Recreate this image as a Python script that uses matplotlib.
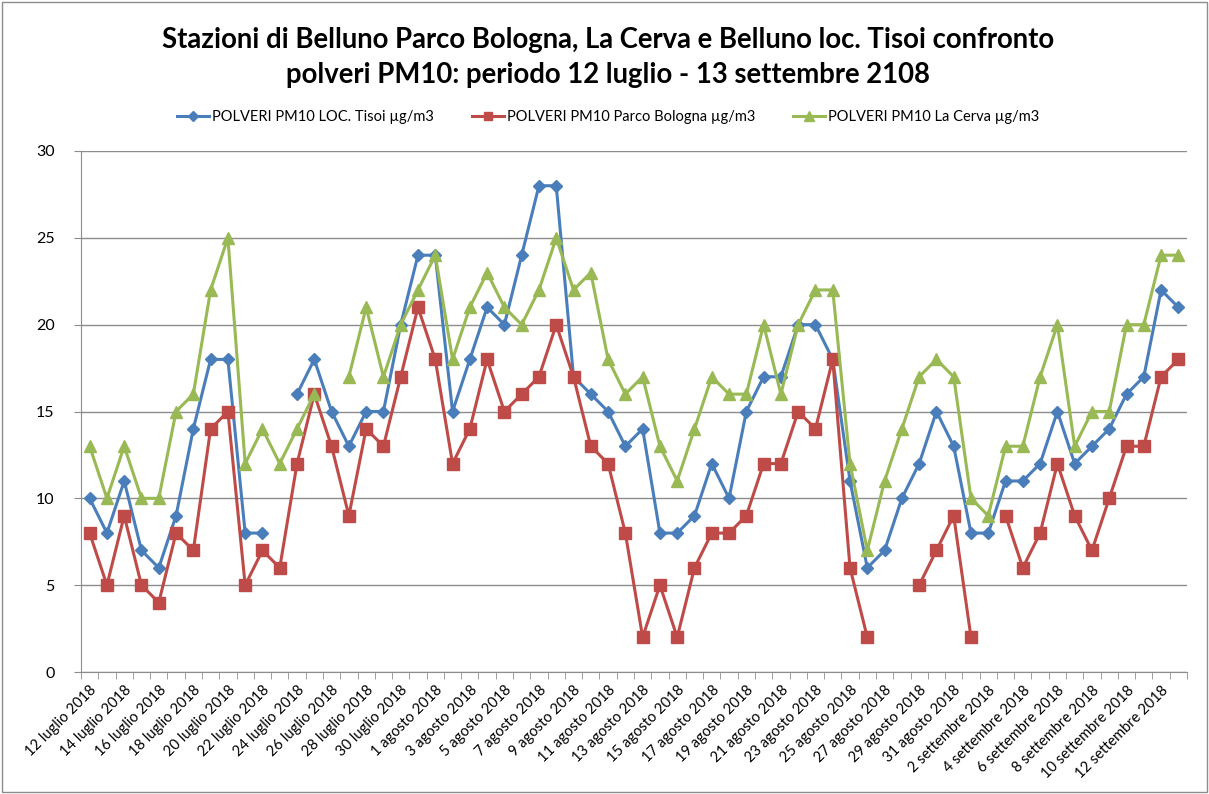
import numpy as np
import pandas as pd
import matplotlib
matplotlib.use("Agg")
import matplotlib.pyplot as plt
from matplotlib.patches import Rectangle

# days from 12 luglio to 13 settembre 2018
mesi = {7: "luglio", 8: "agosto", 9: "settembre"}
giorni = pd.date_range("2018-07-12", "2018-09-13", freq="D")
date_labels = [f"{d.day} {mesi[d.month]} {d.year}" for d in giorni]

tisoi = [10, 8, 11, 7, 6, 9, 14, 18, 18, 8, 8, None, 16, 18, 15, 13,
         15, 15, 20, 24, 24, 15, 18, 21, 20, 24, 28, 28, 17, 16, 15, 13,
         14, 8, 8, 9, 12, 10, 15, 17, 17, 20, 20, 18, 11, 6, 7, 10,
         12, 15, 13, 8, 8, 11, 11, 12, 15, 12, 13, 14, 16, 17, 22, 21]

parco_bologna = [8, 5, 9, 5, 4, 8, 7, 14, 15, 5, 7, 6, 12, 16, 13, 9,
                 14, 13, 17, 21, 18, 12, 14, 18, 15, 16, 17, 20, 17, 13, 12, 8,
                 2, 5, 2, 6, 8, 8, 9, 12, 12, 15, 14, 18, 6, 2, None, None,
                 5, 7, 9, 2, None, 9, 6, 8, 12, 9, 7, 10, 13, 13, 17, 18]

la_cerva = [13, 10, 13, 10, 10, 15, 16, 22, 25, 12, 14, 12, 14, 16, None, 17,
            21, 17, 20, 22, 24, 18, 21, 23, 21, 20, 22, 25, 22, 23, 18, 16,
            17, 13, 11, 14, 17, 16, 16, 20, 16, 20, 22, 22, 12, 7, 11, 14,
            17, 18, 17, 10, 9, 13, 13, 17, 20, 13, 15, 15, 20, 20, 24, 24]

series_names = ["POLVERI PM10 LOC. Tisoi µg/m3",
                "POLVERI PM10 Parco Bologna µg/m3",
                "POLVERI PM10 La Cerva µg/m3"]

plt.rcParams['font.family'] = ['Lato', 'DejaVu Sans']

fig = plt.figure(figsize=(12.09, 7.94), dpi=100)
ax = fig.add_axes([81/1209, 1 - 672/794, 1106/1209, 521/794])

x = np.arange(len(date_labels))
def arr(v):
    return np.array([np.nan if a is None else a for a in v], dtype=float)

ax.plot(x, arr(tisoi), color="#4A7EBB", lw=2.2, marker="D", ms=6.5,
        label=series_names[0])
ax.plot(x, arr(parco_bologna), color="#BE4B48", lw=2.2, marker="s", ms=8,
        label=series_names[1])
ax.plot(x, arr(la_cerva), color="#98B954", lw=2.2, marker="^", ms=9,
        label=series_names[2])

ax.set_xlim(-0.5, len(x) - 0.5)
ax.set_ylim(0, 30)
ax.set_yticks(range(0, 31, 5))
ax.grid(axis="y", color="#8C8C8C", lw=1)
ax.set_axisbelow(True)

for s in ["top", "right"]:
    ax.spines[s].set_visible(False)
for s in ["left", "bottom"]:
    ax.spines[s].set_color("#8C8C8C")

ax.set_xticks(x[::2])
ax.set_xticklabels(date_labels[::2], rotation=45, ha="right",
                   rotation_mode="anchor", fontsize=10.5)
ax.set_xticks(np.arange(-0.5, len(x)), minor=True)
ax.tick_params(axis="x", which="major", length=0, pad=8)
ax.tick_params(axis="x", which="minor", length=5, color="#8C8C8C")
ax.tick_params(axis="y", length=5, color="#8C8C8C", labelsize=11.5, pad=14)

fig.text(0.503, 0.95, "Stazioni di Belluno Parco Bologna, La Cerva e Belluno loc. Tisoi confronto",
         ha="center", va="center", fontsize=19.8, fontweight="bold")
fig.text(0.503, 0.905, "polveri PM10: periodo 12 luglio - 13 settembre 2108",
         ha="center", va="center", fontsize=19.8, fontweight="bold")

fig.legend(loc="center", bbox_to_anchor=(0.503, 0.853), ncol=3, frameon=False,
           fontsize=10.5, columnspacing=2.6, handlelength=2.2,
           handletextpad=0.2, markerscale=0.8)

fig.patches.append(Rectangle((0.002, 0.002), 0.996, 0.996, transform=fig.transFigure,
                             fill=False, edgecolor="#8C8C8C", lw=1))

fig.savefig("out.png", dpi=100)
